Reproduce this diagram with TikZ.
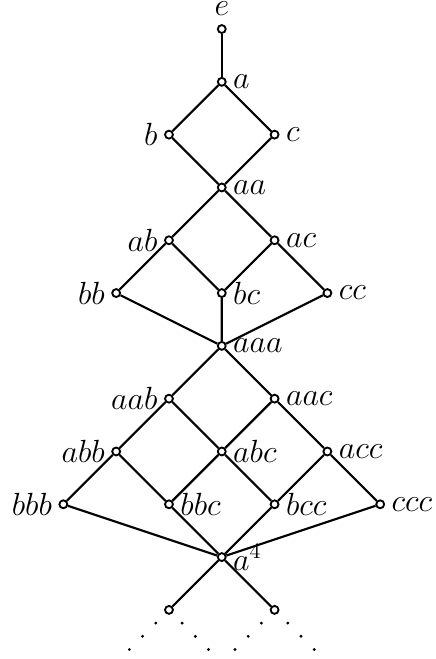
\documentclass[tikz,border=0pt]{standalone}
\usetikzlibrary{calc}

\begin{document}
\begin{tikzpicture}[
    x = 1cm, y = 1cm,
    elt/.style = {
        circle, draw=black, fill=white,
        line width = 1pt,
        minimum size = 0.15cm,
        inner sep = 0pt
    },
    edge/.style  = { line width = 1.15pt },
    every label/.style = { font=\fontsize{16.5}{20}\selectfont },
]
\useasboundingbox (-4.2,-1.93) rectangle (4.04,10.55);

%% ── Elements ─────────────────────────────────────────────────────────────
\node[elt, label={[inner sep=0pt, yshift=4.5pt]above:$e$}] (e) at (0,10) {};
\node[elt, label=right:$a$]   (a)   at (0,9)  {};
\node[elt, label=left:$b$]    (b)   at (-1,8) {};
\node[elt, label=right:$c$]   (c)   at (1,8)  {};
\node[elt, label=right:$aa$]  (aa)  at (0,7)  {};
\node[elt, label=left:$ab$]   (ab)  at (-1,6) {};
\node[elt, label=right:$ac$]  (ac)  at (1,6)  {};
\node[elt, label=left:$bb$]   (bb)  at (-2,5) {};
\node[elt, label=right:$bc$]  (bc)  at (0,5)  {};
\node[elt, label=right:$cc$]  (cc)  at (2,5)  {};
\node[elt, label=right:$aaa$] (aaa) at (0,4)  {};
\node[elt, label=left:$aab$]  (aab) at (-1,3) {};
\node[elt, label=right:$aac$] (aac) at (1,3)  {};
\node[elt, label=left:$abb$]  (abb) at (-2,2) {};
\node[elt, label=right:$abc$] (abc) at (0,2)  {};
\node[elt, label=right:$acc$] (acc) at (2,2)  {};
\node[elt, label=left:$bbb$]  (bbb) at (-3,1) {};
\node[elt, label=right:$bbc$] (bbc) at (-1,1) {};
\node[elt, label=right:$bcc$] (bcc) at (1,1)  {};
\node[elt, label=right:$ccc$] (ccc) at (3,1)  {};
\node[elt, label=right:$a^4$] (a4)  at (0,0)  {};
\node[elt]                    (lo1) at (-1,-1) {};
\node[elt]                    (lo2) at (1,-1)  {};

%% ── Covering relations ───────────────────────────────────────────────────
\begin{scope}[on background layer/.try]
\draw[edge] (e) -- (a);
\draw[edge] (a) -- (b)  (a) -- (c);
\draw[edge] (b) -- (aa) (c) -- (aa);
\draw[edge] (aa) -- (ab) (aa) -- (ac);
\draw[edge] (ab) -- (bb) (ab) -- (bc) (ac) -- (bc) (ac) -- (cc);
\draw[edge] (bb) -- (aaa) (bc) -- (aaa) (cc) -- (aaa);
\draw[edge] (aaa) -- (aab) (aaa) -- (aac);
\draw[edge] (aab) -- (abb) (aab) -- (abc) (aac) -- (abc) (aac) -- (acc);
\draw[edge] (abb) -- (bbb) (abb) -- (bbc) (abc) -- (bbc)
            (abc) -- (bcc) (acc) -- (bcc) (acc) -- (ccc);
\draw[edge] (bbb) -- (a4) (bbc) -- (a4) (bcc) -- (a4) (ccc) -- (a4);
\draw[edge] (a4) -- (lo1) (a4) -- (lo2);
\end{scope}

%% ── Continuation dots ────────────────────────────────────────────────────
\foreach \lo in {lo1, lo2}
    \foreach \i in {1,2,3} {
        \fill ($(\lo)+(-\i*0.25,-\i*0.25)$) circle (0.03);
        \fill ($(\lo)+(\i*0.25,-\i*0.25)$)  circle (0.03);
    }

\end{tikzpicture}
\end{document}
